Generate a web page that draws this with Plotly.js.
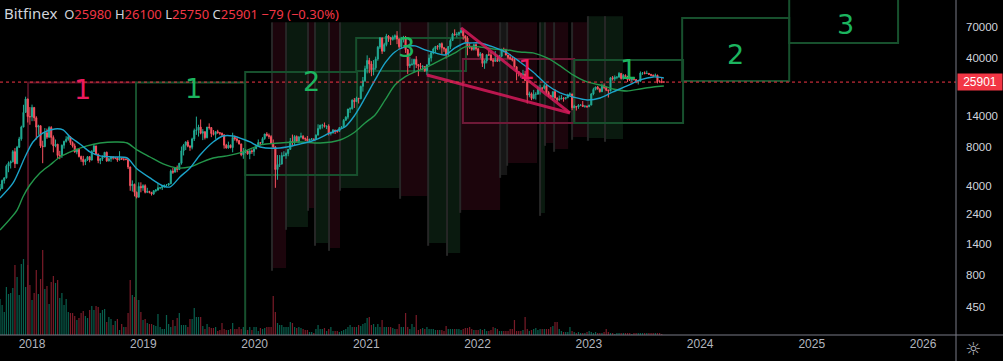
<!DOCTYPE html>
<html><head><meta charset="utf-8">
<script src="https://cdn.plot.ly/plotly-3.0.1.min.js"></script>
<style>html,body{margin:0;padding:0;background:#000;}#chart{width:1003px;height:361px;}</style>
</head><body><div id="chart"></div>
<script>
// ---------- DATA (weekly BTCUSD, Bitfinex; weeks start Monday 2017-09-18) ----------
const firstWeek = '2017-09-18';
const firstOpen = 3700;
const close2017 = [3790,4390,4610,5690,6010,6150,7390,5950,8000,9300,11500,15000,19100,13900,13850];
const high2017  = [4120,4470,4640,5860,6190,6300,7600,7880,8200,9650,11800,17200,19900,19200,16500];
const low2017   = [3620,3870,4160,4550,5100,5450,6100,5500,5900,7900,9000,11500,15000,12500,12000];
const close2018 = [16400,13600,11500,11800,8200,8100,10400,9600,11400,9550,8200,8450,6900,6900,8300,8900,9250,9650,8700,8200,7350,7700,6770,6450,6150,6380,6750,6350,7400,8200,7050,6300,6500,6700,7300,6250,6500,6700,6600,6600,6350,6550,6450,6450,6400,5600,4000,4100,3550,3250,3950,3850];
const high2018  = [17250,16300,14000,12000,11800,9000,11300,11200,11700,11700,9900,9200,8500,7500,8400,9000,9750,9950,9600,8900,8550,7800,7750,6880,6850,6500,6800,6800,7600,8500,8200,7150,6600,6900,7350,7400,6600,6800,6800,6650,6700,7450,6600,6550,6550,6450,5650,4400,4150,3600,4250,4250];
const low2018   = [12800,12800,9200,10000,7900,6000,8000,9300,9500,8400,7300,8000,6500,6450,6600,7800,8700,9000,8350,7950,7250,7050,6650,6150,5750,5800,6250,6100,6300,7350,6950,6000,5900,6250,6650,6150,6200,6150,6400,6450,6150,6300,6400,6280,6350,5400,3650,3600,3300,3180,3240,3550];
const close2019 = [4000,3550,3600,3550,3450,3650,3700,3850,3850,3950,4050,4050,4150,5200,5100,5550,5350,6000,7500,8300,8800,8150,8000,9300,10800,10900,11500,10300,10600,9500,11500,11400,10250,10100,10600,10400,10300,10000,8300,7900,8300,7950,9550,9300,9050,8500,7000,7400,7500,7100,7500,7400];
const high2019  = [4100,4100,3850,3650,3550,3700,3750,4200,3900,4000,4050,4100,4180,5350,5500,5600,5750,6000,8100,8500,8900,9100,8300,9500,11200,13900,12000,13200,11100,10600,11500,12300,11500,10900,10600,10950,10500,10400,10100,8500,8850,8400,10400,9900,9550,9100,8500,7900,7700,7550,7550,7700];
const low2019   = [3650,3480,3500,3480,3350,3390,3550,3650,3750,3700,3850,3950,3980,4100,4950,5100,5100,5300,5850,6900,7600,8000,7500,7700,8950,10000,9700,10100,9100,9200,9400,11000,9600,9900,9300,10200,9950,9700,7800,7800,7800,7850,7300,9000,8700,8400,6800,6500,7200,7000,6450,7100];
const close2020 = [7800,8190,8700,8600,9350,10150,9900,9700,8550,8050,5350,5850,5900,6900,6900,7150,7700,8900,8750,9700,8900,9650,9750,9350,9300,9000,9250,9300,9200,9950,11200,11900,11900,11650,11700,10300,10350,10900,10700,10650,11400,11500,13000,13750,15950,16000,18700,18200,19350,19200,24000,26500];
const high2020  = [7800,8300,9200,8800,9600,10200,10500,10250,9950,9200,8150,6950,6950,7300,7450,7300,7750,9450,10050,9950,9900,9700,10400,9950,9550,9800,9300,9450,9350,10100,12100,12000,12200,12500,11800,12100,10600,11100,10950,10950,11450,11700,13300,14000,15950,16450,18950,19450,19900,19400,24250,28400];
const low2020   = [6850,7700,8100,8250,8550,9150,9700,9300,8450,7900,3850,4450,5600,5900,6750,6500,6800,7650,8150,8300,8850,8650,9400,9200,8950,8850,8950,9100,9050,9150,9950,11000,11200,11400,11100,9900,9900,10250,10150,10400,10550,11200,11400,12950,13250,14850,15800,16250,18200,17600,19000,21800];
const close2021 = [33000,38200,35900,32300,33500,39200,48600,57500,45200,50900,59400,57600,55800,58200,59700,56200,49000,56700,58200,46500,34700,35600,35800,39000,35600,34700,34200,34300,31800,35400,39900,44000,47000,49300,48800,51800,48100,47200,42800,49200,54800,61500,60900,61300,63300,65500,59700,57300,49400,48400,46700,50800];
const high2021  = [34800,41950,40100,37800,38500,41000,49700,58300,57500,52600,61800,60500,58500,60100,61200,64900,57000,58500,59600,59500,46700,40900,39500,39400,41300,35700,36600,35200,34600,35500,42600,45300,48200,49400,50500,52000,52900,48800,47300,49200,56600,62900,67000,63700,64300,69000,66400,59400,59200,51900,49500,51900];
const low2021   = [26000,30300,30400,28800,29250,32300,38000,47000,43000,44900,49300,53500,50500,54700,55500,51300,47000,47500,52900,43800,30000,33400,34800,31000,33400,28800,32700,32100,31100,29300,35300,37500,42800,43900,46300,46600,42800,44700,39600,40800,46900,54400,59700,57900,59500,62300,55600,53300,42000,47100,45600,45700];
const close2022 = [47300,41800,43100,36300,37900,42400,42200,38400,37700,38400,37800,41300,46800,46400,42200,40400,39500,38500,34100,31300,30300,29400,29900,26600,20500,21000,19300,20800,20800,22600,23300,23200,24300,21500,20300,19800,21800,19400,18800,19050,19400,19200,19600,20600,20900,16300,16700,16500,17100,17100,16700,16800];
const high2022  = [52100,47600,44500,43500,38900,42600,45800,44700,39800,45400,42000,42300,46900,48200,47200,41600,42900,40800,40000,34400,31400,30600,32300,31700,26800,21800,21500,22500,21600,24300,24700,23600,25200,24500,22000,20600,21800,22800,19700,20300,20500,19700,19700,21000,21500,21000,17200,16700,17400,17400,18400,17000];
const low2022   = [45700,40600,39700,34000,32900,36300,41500,38000,34300,37200,37200,37600,40500,44300,42000,39200,38600,37600,33700,26700,28700,28000,29300,26600,17600,19700,18700,19000,18900,20800,20700,22400,22700,20800,19800,19600,18500,19300,18100,18500,19100,18200,18900,19300,20100,15600,16400,15500,16000,16800,16500,16300];
const close2023 = [16600,17100,20900,22700,23700,22900,21800,24300,23500,22400,22100,28000,27500,28200,28300,30300,27600,29200,28700,27000,26900,28100,27100,25900,26300,30500,30600,30200,30300,29800,29300,29000,29300,26100,26000,25980,25901];
const high2023  = [16900,17200,21300,23400,23800,24200,23200,25200,25250,23900,22600,28400,28900,29200,28800,31000,30500,30000,29800,28800,27700,28200,28400,27400,26800,31400,31000,31400,31800,30400,29800,29700,30200,29600,26800,28200,26100];
const low2023   = [16300,16600,17100,20400,22300,22600,21400,21600,22800,22000,19600,21900,26600,26500,27300,28200,27100,27100,27700,25900,26400,25900,26600,25400,24800,26200,29500,29800,30000,29500,28900,28600,28800,25300,25800,25400,25750];
// weekly volume (units of 10k BTC)
const volume = [36,30,23,48,41,42,47,70,58,40,71,76,48,70,50,
 35,42,65,41,56,85,46,49,31,53,59,52,55,37,42,30,36,23,22,22,19,15,17,22,24,19,17,25,29,25,29,28,22,25,26,13,18,16,10,14,16,5,11,8,8,22,55,40,38,35,35,23,
 15,16,12,11,11,10,9,21,8,6,6,20,11,8,15,9,17,22,10,10,10,8,16,16,27,18,18,18,9,6,11,8,7,7,8,4,5,12,6,5,5,6,12,6,6,8,6,8,5,5,8,
 5,8,8,4,7,6,7,8,8,8,39,23,12,10,10,8,8,8,13,12,8,7,8,7,6,5,5,3,3,2,6,10,6,6,7,4,6,8,4,4,4,3,4,5,6,8,10,8,8,8,10,9,
 11,12,17,18,10,11,8,11,8,15,8,8,8,8,7,6,6,11,8,8,22,8,6,11,8,20,5,6,7,6,8,6,6,6,5,5,5,5,4,9,6,6,6,6,6,6,5,6,7,7,8,6,
 5,5,5,6,5,6,4,4,5,8,7,6,4,4,4,4,4,6,6,15,4,4,4,5,18,6,4,5,6,7,5,6,6,6,6,6,8,9,13,13,6,4,3,3,3,8,4,3,2,3,2,2,
 2,3,4,3,2,3,2,2,2,3,6,3,2,2,1,2,2,2,2,2,2,2,1,2,2,2,2,2,2,2,2,2,2,2,2,2,1];
// moving averages
const maFastDates = ['2017-09-18','2017-10-31','2017-12-09','2018-01-04','2018-02-06','2018-03-17','2018-04-13','2018-05-06','2018-06-07','2018-07-10','2018-08-12','2018-09-24','2018-11-09','2018-12-08','2019-01-23','2019-03-07','2019-03-30','2019-05-01','2019-06-03','2019-07-06','2019-08-18','2019-09-19','2019-10-22','2019-12-01','2019-12-17','2020-01-19','2020-03-24','2020-05-29','2020-07-17','2020-09-04','2020-10-23','2020-11-25','2020-12-28','2021-01-30','2021-03-04','2021-04-05','2021-05-08','2021-06-10','2021-07-13','2021-08-15','2021-09-16','2021-10-19','2021-11-21','2021-12-07','2022-01-09','2022-02-21','2022-04-08','2022-05-20','2022-07-02','2022-08-17','2022-09-29','2022-11-10','2022-12-26','2023-02-07','2023-03-21','2023-05-06','2023-06-18','2023-07-31','2023-09-04'];
const maFastVals  = [3205,4200,6710,8800,10350,11130,10930,9630,8490,7350,6840,6710,6590,5510,4600,3980,3910,4680,5510,6960,8800,9800,9800,9120,8800,8040,7900,8490,9120,10350,11530,14320,19450,26920,36570,44600,48800,49700,46230,43800,42240,47930,52450,52450,52450,48800,43800,37230,31090,24590,21290,19810,18770,19450,21680,24150,26920,28410,27900];
const maSlowDates = ['2017-09-18','2017-11-13','2017-12-02','2017-12-25','2018-01-27','2018-03-01','2018-04-03','2018-05-15','2018-06-30','2018-08-12','2018-10-07','2018-11-09','2018-12-11','2019-01-23','2019-03-07','2019-04-21','2019-06-03','2019-07-06','2019-08-18','2019-10-02','2019-11-24','2020-01-19','2020-03-24','2020-05-29','2020-08-03','2020-10-07','2020-11-25','2020-12-28','2021-01-30','2021-03-04','2021-04-05','2021-05-08','2021-06-10','2021-07-13','2021-08-15','2021-09-16','2021-10-19','2021-11-21','2022-01-09','2022-02-21','2022-04-08','2022-05-20','2022-07-02','2022-08-17','2022-09-29','2022-11-10','2022-12-26','2023-02-07','2023-03-21','2023-05-06','2023-06-18','2023-07-31','2023-09-04'];
const maSlowVals  = [1800,2580,3265,4050,5030,5810,6710,7480,8190,8640,8800,8640,7620,6710,5920,5510,5610,6030,6590,6840,7350,8340,8640,8800,8640,9120,10540,12400,14320,18770,24590,28410,31090,33410,36570,40010,43800,48800,48800,47070,46230,44600,43800,40010,34640,29450,25960,24590,22880,22070,22880,23720,24150];
// cycle boxes: start, end, top, bottom, kind, label, label date, label price
const boxStart = ['2017-12-19','2018-12-08','2019-12-01','2020-11-29','2021-11-14','2022-11-14','2023-11-03','2024-10-19'];
const boxEnd   = ['2018-12-08','2019-12-01','2020-12-02','2021-11-24','2022-11-14','2023-11-06','2024-10-19','2025-10-11'];
const boxTop   = [25700,25700,31090,57400,39300,38600,82300,200000];
const boxBottom= [100,100,4850,31660,12400,12400,26430,52450];
const boxKind  = ['bear','bull','bull','bull','bear2','bull','bull','bull'];
const boxLabel = ['1','1','2','3','1','1','2','3'];
const labelDate  = ['2018-06-17','2019-06-16','2020-07-07','2021-05-12','2022-06-12','2023-05-10','2024-04-25','2025-04-20'];
const labelPrice = [22480,22880,25960,47930,32240,32240,42240,72560];
// wedge lines
const wedgeStart = [['2021-11-08',68750],['2021-07-19',29450]];
const wedgeEnd   = [['2022-10-31',14850],['2022-10-31',14850]];
// background columns: start, end, bottom price, kind
const colStart = ['2020-02-27','2020-04-13','2020-06-24','2020-07-17','2020-09-01','2020-10-07','2021-04-22','2021-07-23','2021-09-23','2021-11-05','2022-03-16','2022-04-08','2022-07-25','2022-08-10','2022-09-09','2022-11-07','2022-12-29','2023-02-23'];
const colEnd   = ['2020-04-13','2020-06-24','2020-07-17','2020-09-01','2020-10-07','2021-04-22','2021-07-23','2021-09-23','2021-11-05','2022-03-16','2022-04-08','2022-07-15','2022-08-10','2022-09-09','2022-10-25','2022-12-29','2023-02-23','2023-04-23'];
const colBottom= [908,1901,2678,1425,1301,3838,3324,1425,1189,2582,4850,6030,2444,8640,7760,9630,9460,9290];
const colKind  = ['r','g','r','g','r','g','r','g','g','r','n','r','g','r','r','r','g','g'];
const colTop   = [76000,76000,76000,76000,76000,76000,76000,76000,76000,76000,76000,76000,76000,76000,76000,76000,85000,85000];
const yTickVals = [450,800,1400,2400,4000,8000,14000,40000,70000,120000];
const yearTicks = ['2018','2019','2020','2021','2022','2023','2024','2025','2026'];

// ---------- BUILD ----------
const close = [].concat(close2017,close2018,close2019,close2020,close2021,close2022,close2023);
const high0 = [].concat(high2017,high2018,high2019,high2020,high2021,high2022,high2023);
const low0  = [].concat(low2017,low2018,low2019,low2020,low2021,low2022,low2023);
const t0 = Date.parse(firstWeek+'T00:00:00Z');
const dates = close.map((_,i)=>new Date(t0+i*7*864e5).toISOString().slice(0,10));
const open = close.map((c,i)=> i===0 ? firstOpen : close[i-1]);
const high = high0.map((h,i)=>Math.max(h,open[i],close[i]));
const low  = low0.map((l,i)=>Math.min(l,open[i],close[i]));
const UP='#22ab94', DN='#f7525f';
const volColors = close.map((c,i)=> c>=open[i] ? 'rgba(10,100,82,0.95)' : 'rgba(128,28,42,0.95)');

const traces = [
 {type:'bar', x:dates, y:volume, yaxis:'y2', marker:{color:volColors, line:{width:0}}, width:4*864e5, hoverinfo:'skip'},
 {type:'candlestick', x:dates, open:open, high:high, low:low, close:close,
  increasing:{line:{color:UP,width:1}, fillcolor:UP}, decreasing:{line:{color:DN,width:1}, fillcolor:DN}, whiskerwidth:0},
 {type:'scatter', mode:'lines', x:maSlowDates, y:maSlowVals, line:{color:'#23954a', width:1.4, shape:'spline', smoothing:0.8}, hoverinfo:'skip'},
 {type:'scatter', mode:'lines', x:maFastDates, y:maFastVals, line:{color:'#1ba3c9', width:1.4, shape:'spline', smoothing:0.8}, hoverinfo:'skip'}
];

const shapes = [];
const colFill = {r:'#1c050c', g:'#0a1a0f', n:'#161616'};
colStart.forEach((s,i)=>{
  shapes.push({type:'rect', xref:'x', yref:'y', x0:s, x1:colEnd[i], y0:colTop[i], y1:colBottom[i], fillcolor:colFill[colKind[i]], line:{width:0}, layer:'below'});
});
colStart.forEach((s,i)=>{
  shapes.push({type:'line', xref:'x', yref:'y', x0:s, x1:s, y0:colTop[i], y1:colBottom[i]*0.95, line:{color:'#262626', width:2}, layer:'below'});
});
const boxLine = {bear:'#4e1122', bull:'#17502d', bear2:'#6e1937'};
boxStart.forEach((s,i)=>{
  shapes.push({type:'rect', xref:'x', yref:'y', x0:s, x1:boxEnd[i], y0:boxTop[i], y1:boxBottom[i], line:{color:boxLine[boxKind[i]], width:2}, fillcolor:'rgba(0,0,0,0)', layer:'below'});
});
wedgeStart.forEach((p,i)=>{
  shapes.push({type:'line', xref:'x', yref:'y', x0:p[0], y0:p[1], x1:wedgeEnd[i][0], y1:wedgeEnd[i][1], line:{color:'rgba(214,26,90,0.85)', width:3}, layer:'above'});
});
const last = close.length-1;
shapes.push({type:'line', xref:'paper', yref:'y', x0:0, x1:1, y0:close[last], y1:close[last], line:{color:'#f23645', width:1, dash:'dot'}});
shapes.push({type:'line', xref:'paper', yref:'paper', x0:0, x1:1.05, y0:0, y1:0, line:{color:'#787b86', width:1}});
shapes.push({type:'line', xref:'paper', yref:'paper', x0:1, x1:1, y0:-0.08, y1:1, line:{color:'#787b86', width:1}});

const annotations = [];
boxLabel.forEach((t,i)=>{
  const red = boxKind[i]!=='bull';
  annotations.push({x:labelDate[i], y:Math.log10(labelPrice[i]), xref:'x', yref:'y', text:t, showarrow:false,
    font:{family:'DejaVu Sans, sans-serif', size:27, color: red ? '#ec1a5e' : '#1cb45f'}});
});
const chg = close[last]-open[last];
const pct = (chg/open[last]*100).toFixed(2);
const minus = v => v<0 ? '\u2212'+Math.abs(v) : '+'+v;
const R = s => '<span style="color:#f23645">'+s+'</span>';
const G = s => '<span style="color:#d1d4dc">'+s+'</span>';
annotations.push({xref:'paper', yref:'paper', x:0.002, y:1, xanchor:'left', yanchor:'top', yshift:-1, showarrow:false, align:'left',
  text:'<span style="font-size:15px;color:#d1d4dc">Bitfinex</span>  '+G('O')+R(open[last])+' '+G('H')+R(high[last])+' '+G('L')+R(low[last])+' '+G('C')+R(close[last])+' '+R(minus(chg)+' ('+(chg<0?'\u2212':'+')+Math.abs(pct).toFixed(2)+'%)'),
  font:{family:'Noto Sans, sans-serif', size:13, color:'#d1d4dc'}});
annotations.push({xref:'paper', yref:'y', x:1, y:Math.log10(close[last]), xanchor:'left', xshift:1, showarrow:false,
  text:String(close[last]), bgcolor:'#f23645', width:44, height:16, borderpad:0, font:{family:'Liberation Sans, Arial, sans-serif', size:12, color:'#ffffff'}});
annotations.push({xref:'paper', yref:'paper', x:1.0178, y:-0.039, xanchor:'center', yanchor:'middle', showarrow:false, text:'\u263C', font:{family:'DejaVu Sans', size:18, color:'#b2b5be'}});

const layout = {
  width:1003, height:361, margin:{l:0, r:47, t:0, b:26},
  paper_bgcolor:'#000', plot_bgcolor:'#000', showlegend:false, dragmode:false,
  xaxis:{type:'date', range:['2017-09-18','2026-04-19'], showgrid:false, zeroline:false, showline:false,
    rangeslider:{visible:false}, tickvals:yearTicks.map(y=>y+'-01-01'), ticktext:yearTicks, ticks:'',
    tickfont:{family:'Liberation Sans, Arial, sans-serif', size:12, color:'#b2b5be'}},
  yaxis:{type:'log', side:'right', range:[2.433,5.056], showgrid:false, zeroline:false, showline:false,
    tickvals:yTickVals, ticktext:yTickVals.map(String), ticks:'', ticklabelstandoff:9,
    tickfont:{family:'Liberation Sans, Arial, sans-serif', size:11.5, color:'#d1d4dc'}},
  yaxis2:{overlaying:'y', range:[0,335], visible:false, fixedrange:true},
  shapes:shapes, annotations:annotations, hovermode:false
};
Plotly.newPlot('chart', traces, layout, {staticPlot:true, displayModeBar:false});
</script></body></html>
